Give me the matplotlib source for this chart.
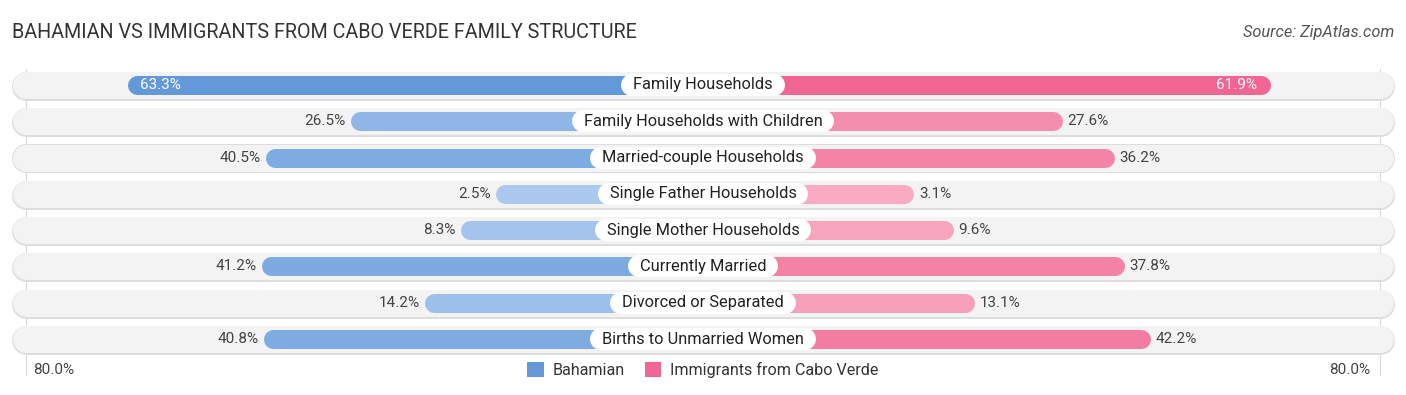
"""
Bahamian vs immigrants from Cabo Verde - family structure, mirrored bar chart
"""
import matplotlib.pyplot as plt
from matplotlib.patches import Patch
from matplotlib.colors import to_rgb
import numpy as np

categories = [
    'Family Households',
    'Family Households with Children',
    'Married-couple Households',
    'Single Father Households',
    'Single Mother Households',
    'Currently Married',
    'Divorced or Separated',
    'Births to Unmarried Women',
]
bahamian = [63.3, 26.5, 40.5, 2.5, 8.3, 41.2, 14.2, 40.8]
cabo_verde = [61.9, 27.6, 36.2, 3.1, 9.6, 37.8, 13.1, 42.2]
axis_max = 80.0

W, H, DPI = 1406, 395, 100
PX = 6.06          # pixels per percentage point
CENTER_PX = 703
OFFSET = 31.7      # bars start under the label box, this far from the centre
ROW0_PX, ROW_STEP = 85, 36.3

BLUE_DARK, BLUE_LIGHT = '#6399d9', '#aecbef'
PINK_DARK, PINK_LIGHT = '#f06591', '#f8afc5'
TEXT = '#444444'

plt.rcParams['font.family'] = ['Roboto', 'DejaVu Sans']


def px_to_pt(px):
    return px * 72 / DPI


def mix(light, dark, t):
    a, b = np.array(to_rgb(light)), np.array(to_rgb(dark))
    return tuple(a + (b - a) * t)


fig = plt.figure(figsize=(W / DPI, H / DPI), dpi=DPI)
ax = fig.add_axes([0, 0, 1, 1])
ax.set_xlim(-CENTER_PX / PX, (W - CENTER_PX) / PX)
ax.set_ylim((H - ROW0_PX) / ROW_STEP, -ROW0_PX / ROW_STEP)
ax.axis('off')

row_h, bar_h, box_h = 27, 19, 22
row_cap = row_h / 2 / PX
bar_cap = bar_h / 2 / PX
left_edge = -(CENTER_PX - 12) / PX
right_edge = (W - 13 - CENTER_PX) / PX
edge_x = OFFSET + axis_max

# faint gridlines at +/- 80%
for sx in (-1, 1):
    ax.plot([sx * edge_x, sx * edge_x], [-0.45, 8.0], color='#d9d9d9', lw=0.8, zorder=0.5)

renderer = fig.canvas.get_renderer()
vmax_b, vmax_c = max(bahamian), max(cabo_verde)
for i, (cat, b, c) in enumerate(zip(categories, bahamian, cabo_verde)):
    # row background with soft edge
    ax.plot([left_edge + row_cap, right_edge - row_cap], [i + 0.8 / ROW_STEP] * 2,
            color='#dddddd', lw=px_to_pt(row_h + 2), solid_capstyle='round', zorder=1)
    ax.plot([left_edge + row_cap, right_edge - row_cap], [i, i],
            color='#f3f3f3', lw=px_to_pt(row_h), solid_capstyle='round', zorder=1.1)

    # bahamian bar (left)
    xb = -(OFFSET + b)
    ax.plot([xb + bar_cap, 0], [i, i], color=mix(BLUE_LIGHT, BLUE_DARK, b / vmax_b),
            lw=px_to_pt(bar_h), solid_capstyle='round', zorder=2)
    # cabo verde bar (right)
    xc = OFFSET + c
    ax.plot([0, xc - bar_cap], [i, i], color=mix(PINK_LIGHT, PINK_DARK, c / vmax_c),
            lw=px_to_pt(bar_h), solid_capstyle='round', zorder=2)

    if b > 50:
        ax.text(xb + 13 / PX, i, f'{b:.1f}%', ha='left', va='center', fontsize=11,
                color='white', zorder=4)
    else:
        ax.text(xb - 5 / PX, i, f'{b:.1f}%', ha='right', va='center', fontsize=11,
                color=TEXT, zorder=4)
    if c > 50:
        ax.text(xc - 13 / PX, i, f'{c:.1f}%', ha='right', va='center', fontsize=11,
                color='white', zorder=4)
    else:
        ax.text(xc + 5 / PX, i, f'{c:.1f}%', ha='left', va='center', fontsize=11,
                color=TEXT, zorder=4)

    # category label in a white pill sized to the text
    t = ax.text(0, i, cat, ha='center', va='center', fontsize=11.8, color='#222222', zorder=6)
    w_px = t.get_window_extent(renderer).width
    half = (w_px / 2 + 12 - box_h / 2) / PX
    ax.plot([-half, half], [i, i], color='white', lw=px_to_pt(box_h),
            solid_capstyle='round', zorder=5)

# title and source
fig.text(12 / W, 1 - 33 / H, 'BAHAMIAN VS IMMIGRANTS FROM CABO VERDE FAMILY STRUCTURE',
         ha='left', va='center', fontsize=14.2, color='#333333')
fig.text(1 - 12 / W, 1 - 33 / H, 'Source: ZipAtlas.com', ha='right', va='center',
         fontsize=11.8, color='#555555', style='italic')

# axis end labels
y_bottom = (370 - ROW0_PX) / ROW_STEP
ax.text(-edge_x + 7 / PX, y_bottom, f'{axis_max:.1f}%', ha='left', va='center',
        fontsize=11, color=TEXT)
ax.text(edge_x - 10 / PX, y_bottom, f'{axis_max:.1f}%', ha='right', va='center',
        fontsize=11, color=TEXT)

handles = [Patch(facecolor=BLUE_DARK, edgecolor='none', label='Bahamian'),
           Patch(facecolor=PINK_DARK, edgecolor='none', label='Immigrants from Cabo Verde')]
ax.legend(handles=handles, loc='center', bbox_to_anchor=(0.5, 1 - 370 / H), ncol=2,
          frameon=False, fontsize=11.6, handlelength=1.05, handleheight=1.05,
          columnspacing=1.2, handletextpad=0.55, labelcolor='#333333')

fig.savefig('out.png', dpi=DPI, facecolor='white')
